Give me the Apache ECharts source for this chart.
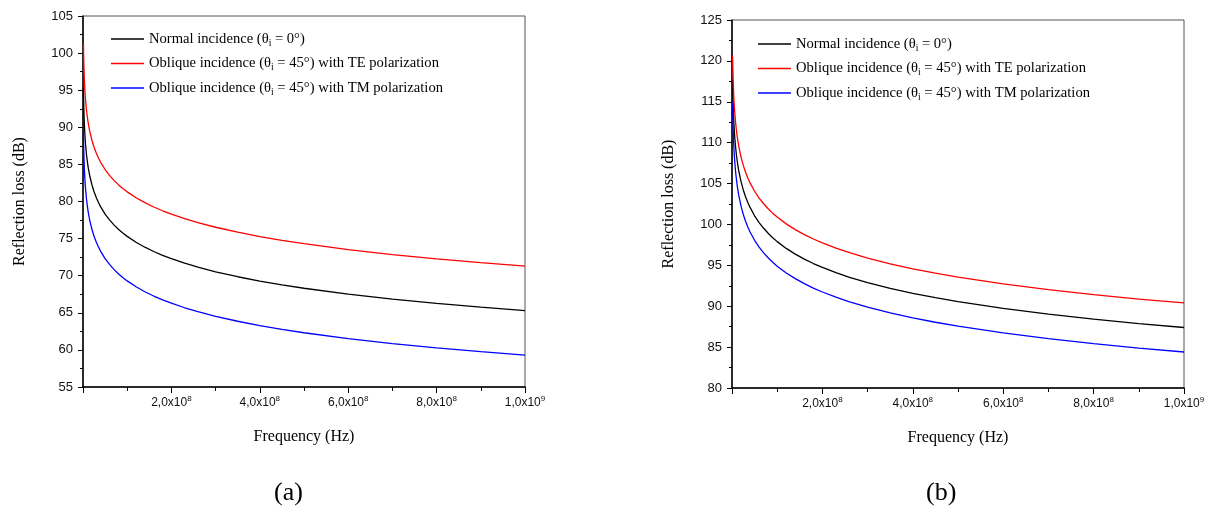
<!DOCTYPE html>
<html>
<head>
<meta charset="utf-8">
<script src="https://cdn.jsdelivr.net/npm/echarts@6/dist/echarts.min.js"></script>
<style>
html, body { margin: 0; padding: 0; background: #fff; }
#chart { width: 1215px; height: 506px; }
</style>
</head>
<body>
<div id="chart"></div>
<script>
// Frequency samples (Hz)
const freqHz = [1e6, 1.5e6, 2e6, 3e6, 4e6, 5e6, 6e6, 8e6, 1e7, 1.2e7, 1.5e7, 2e7, 2.5e7, 3e7, 3.5e7,
  4e7, 5e7, 6e7, 7e7, 8e7, 9e7, 1e8, 1.2e8, 1.4e8, 1.6e8, 1.8e8, 2e8, 2.3e8, 2.6e8, 3e8, 3.5e8,
  4e8, 4.5e8, 5e8, 6e8, 7e8, 8e8, 9e8, 1e9];

// Panel (a): reflection loss (dB)
const normalA = [95.30, 93.54, 92.29, 90.53, 89.28, 88.31, 87.52, 86.27, 85.30, 84.51, 83.54, 82.29, 81.32, 80.53, 79.86,
  79.28, 78.31, 77.52, 76.85, 76.27, 75.76, 75.30, 74.51, 73.84, 73.26, 72.75, 72.29, 71.68, 71.15, 70.53, 69.86,
  69.28, 68.77, 68.31, 67.52, 66.85, 66.27, 65.76, 65.30];
const teA = [101.30, 99.54, 98.29, 96.53, 95.28, 94.31, 93.52, 92.27, 91.30, 90.51, 89.54, 88.29, 87.32, 86.53, 85.86,
  85.28, 84.31, 83.52, 82.85, 82.27, 81.76, 81.30, 80.51, 79.84, 79.26, 78.75, 78.29, 77.68, 77.15, 76.53, 75.86,
  75.28, 74.77, 74.31, 73.52, 72.85, 72.27, 71.76, 71.30];
const tmA = [89.30, 87.54, 86.29, 84.53, 83.28, 82.31, 81.52, 80.27, 79.30, 78.51, 77.54, 76.29, 75.32, 74.53, 73.86,
  73.28, 72.31, 71.52, 70.85, 70.27, 69.76, 69.30, 68.51, 67.84, 67.26, 66.75, 66.29, 65.68, 65.15, 64.53, 63.86,
  63.28, 62.77, 62.31, 61.52, 60.85, 60.27, 59.76, 59.30];

// Panel (b): reflection loss (dB)
const normalB = [117.70, 117.05, 115.74, 113.89, 112.58, 111.56, 110.73, 109.42, 108.40, 107.57, 106.55, 105.24, 104.22, 103.39, 102.69,
  102.08, 101.06, 100.23, 99.53, 98.92, 98.38, 97.90, 97.07, 96.37, 95.76, 95.22, 94.74, 94.10, 93.54, 92.89, 92.19,
  91.58, 91.04, 90.56, 89.73, 89.03, 88.42, 87.88, 87.40];
const teB = [120.70, 120.05, 118.74, 116.89, 115.58, 114.56, 113.73, 112.42, 111.40, 110.57, 109.55, 108.24, 107.22, 106.39, 105.69,
  105.08, 104.06, 103.23, 102.53, 101.92, 101.38, 100.90, 100.07, 99.37, 98.76, 98.22, 97.74, 97.10, 96.54, 95.89, 95.19,
  94.58, 94.04, 93.56, 92.73, 92.03, 91.42, 90.88, 90.40];
const tmB = [114.90, 114.05, 112.74, 110.89, 109.58, 108.56, 107.73, 106.42, 105.40, 104.57, 103.55, 102.24, 101.22, 100.39, 99.69,
  99.08, 98.06, 97.23, 96.53, 95.92, 95.38, 94.90, 94.07, 93.37, 92.76, 92.22, 91.74, 91.10, 90.54, 89.89, 89.19,
  88.58, 88.04, 87.56, 86.73, 86.03, 85.42, 84.88, 84.40];

// Axis ranges: [min, max, interval]
const xRange = [0, 1e9, 2e8];
const yRangeA = [55, 105, 5];
const yRangeB = [80, 125, 5];

// Legend entries
const seriesKeys = ['normal', 'te', 'tm'];
const legendLabels = {
  normal: 'Normal incidence (θ{sub|i} = 0°)',
  te: 'Oblique incidence (θ{sub|i} = 45°) with TE polarization',
  tm: 'Oblique incidence (θ{sub|i} = 45°) with TM polarization'
};
const seriesColors = { normal: '#000000', te: '#ff0000', tm: '#0000ff' };
const panelLabels = ['(a)', '(b)'];

const SERIF = '"Liberation Serif", "Times New Roman", serif';
const SANS = '"Liberation Sans", Arial, sans-serif';

function pairs(ys) { return freqHz.map((f, i) => [f, ys[i]]); }

// "2,0x10^8" style tick text
function sciLabel(v) {
  if (v === 0) return '';
  const e = Math.floor(Math.log10(v) + 1e-9);
  const m = (v / Math.pow(10, e)).toFixed(1).replace('.', ',');
  return '{m|' + m + 'x10}{e|' + e + '}';
}

function xAxisFor(gi) {
  return {
    type: 'value', gridIndex: gi,
    min: xRange[0], max: xRange[1], interval: xRange[2],
    name: 'Frequency (Hz)', nameLocation: 'middle', nameGap: 42,
    nameTextStyle: { fontFamily: SERIF, fontSize: 16, color: '#000' },
    axisLine: { show: true, onZero: false, lineStyle: { color: '#000', width: 1.5 } },
    axisTick: { show: true, length: 6, lineStyle: { color: '#000', width: 1 } },
    minorTick: { show: true, splitNumber: 2, length: 4, lineStyle: { color: '#000', width: 1 } },
    splitLine: { show: false },
    axisLabel: {
      margin: 8,
      formatter: sciLabel,
      rich: {
        m: { fontFamily: SANS, fontSize: 12, color: '#111', lineHeight: 16 },
        e: { fontFamily: SANS, fontSize: 8, color: '#111', lineHeight: 8, verticalAlign: 'top' }
      }
    }
  };
}

function yAxisFor(gi, r) {
  return {
    type: 'value', gridIndex: gi,
    min: r[0], max: r[1], interval: r[2],
    name: 'Reflection loss (dB)', nameLocation: 'middle', nameGap: 55,
    nameTextStyle: { fontFamily: SERIF, fontSize: 16, color: '#000' },
    axisLine: { show: true, onZero: false, lineStyle: { color: '#000', width: 1.5 } },
    axisTick: { show: true, length: 5, lineStyle: { color: '#000', width: 1 } },
    minorTick: { show: true, splitNumber: 2, length: 3, lineStyle: { color: '#000', width: 1 } },
    splitLine: { show: false },
    axisLabel: { margin: 10, fontFamily: SANS, fontSize: 13, color: '#111' }
  };
}

const panels = [
  { normal: normalA, te: teA, tm: tmA },
  { normal: normalB, te: teB, tm: tmB }
];

const series = [];
panels.forEach((p, gi) => {
  seriesKeys.forEach(k => {
    series.push({
      name: k, type: 'line',
      xAxisIndex: gi, yAxisIndex: gi,
      data: pairs(p[k]),
      showSymbol: false, symbol: 'none',
      smooth: false,
      color: seriesColors[k],
      lineStyle: { color: seriesColors[k], width: 1.3 },
      emphasis: { disabled: true },
      silent: true, animation: false
    });
  });
});

function legendFor(left, top) {
  return {
    orient: 'vertical', left: left, top: top,
    data: seriesKeys,
    icon: 'rect', itemWidth: 33, itemHeight: 1.6, itemGap: 6.5,
    selectedMode: false,
    formatter: name => legendLabels[name],
    textStyle: {
      fontFamily: SERIF, fontSize: 14.6, color: '#000', lineHeight: 18,
      rich: {
        sub: { fontFamily: SERIF, fontSize: 9.5, color: '#000', lineHeight: 9, verticalAlign: 'bottom' }
      }
    }
  };
}

const chart = echarts.init(document.getElementById('chart'), null, { renderer: 'canvas' });
chart.setOption({
  animation: false,
  backgroundColor: '#fff',
  grid: [
    { left: 83, right: 690, top: 16, bottom: 119, show: true, borderColor: '#555', borderWidth: 1, backgroundColor: 'transparent' },
    { left: 732, right: 31, top: 20, bottom: 118, show: true, borderColor: '#555', borderWidth: 1, backgroundColor: 'transparent' }
  ],
  xAxis: [xAxisFor(0), xAxisFor(1)],
  yAxis: [yAxisFor(0, yRangeA), yAxisFor(1, yRangeB)],
  legend: [legendFor(106, 25), legendFor(753, 30)],
  graphic: [
    { type: 'text', left: 274, top: 480, style: { text: panelLabels[0], font: '26px ' + SERIF, fill: '#000' } },
    { type: 'text', left: 926, top: 480, style: { text: panelLabels[1], font: '26px ' + SERIF, fill: '#000' } }
  ],
  series: series
});
</script>
</body>
</html>
